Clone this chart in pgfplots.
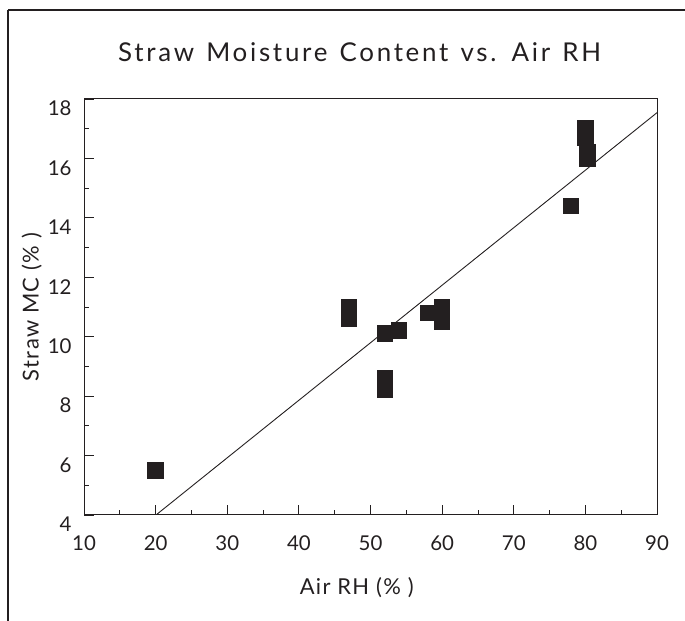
\documentclass[border=0pt]{standalone}
\usepackage{fontspec}
\setmainfont{Lato}
\newfontfamily\titlefont[LetterSpace=10.5,WordSpace=1.3]{Lato}
\newfontfamily\labelfont[LetterSpace=6]{Lato}
\usepackage{pgfplots}
\pgfplotsset{compat=1.18}
\definecolor{ink}{HTML}{231F20}
\begin{document}
\begin{tikzpicture}[x=1bp,y=1bp]
\useasboundingbox (0,0) rectangle (685,621);
\draw[ink, line width=2.6bp] (8,611) -- (720,611);
\draw[ink, line width=2.6bp] (8,611) -- (8,-40);
\begin{axis}[
  at={(84bp,106bp)}, anchor=south west,
  scale only axis, width=573bp, height=416bp,
  xmin=10, xmax=90, ymin=4, ymax=18,
  xtick={10,20,...,90}, ytick={4,6,...,18},
  minor x tick num=1, minor y tick num=1,
  tick align=inside, xtick pos=bottom, ytick pos=left,
  major tick length=10bp, minor tick length=5bp,
  axis line style={ink, line width=1bp},
  every tick/.style={ink, line width=0.8bp},
  every minor tick/.style={ink, line width=0.8bp},
  /pgf/number format/assume math mode=true,
  every tick label/.append style={font=\fontsize{20.5}{24}\selectfont, text=ink},
  xticklabel style={yshift=-17bp},
  yticklabel style={xshift=-9bp, yshift=-9.5bp},
  title={Straw Moisture Content vs. Air RH},
  title style={font=\titlefont\fontsize{26}{30}\selectfont, text=ink, at={(axis description cs:0.481,1.0986)}, anchor=center},
  xlabel={Air RH (\% )},
  xlabel style={font=\labelfont\fontsize{22}{26}\selectfont, text=ink, at={(axis description cs:0.476,-0.19)}, anchor=base},
  ylabel={Straw MC (\% )},
  ylabel style={font=\labelfont\fontsize{22}{26}\selectfont, text=ink, at={(axis description cs:-0.091,0.5)}, anchor=center},
]
\addplot[only marks, mark=square*, mark size=7.8bp, mark options={fill=ink, draw=ink, line width=0pt}] coordinates {
  (20,5.5) (47,11.0) (47,10.6) (52,10.1) (54,10.2) (52,8.6) (52,8.2)
  (58,10.8) (60,11.0) (60,10.5) (80,17.0) (80,16.7) (80.3,16.2) (80.3,16.0) (78,14.4)
};
\addplot[ink, line width=0.9bp] coordinates {(20.05,4) (90,17.54)};
\end{axis}
\end{tikzpicture}
\end{document}
